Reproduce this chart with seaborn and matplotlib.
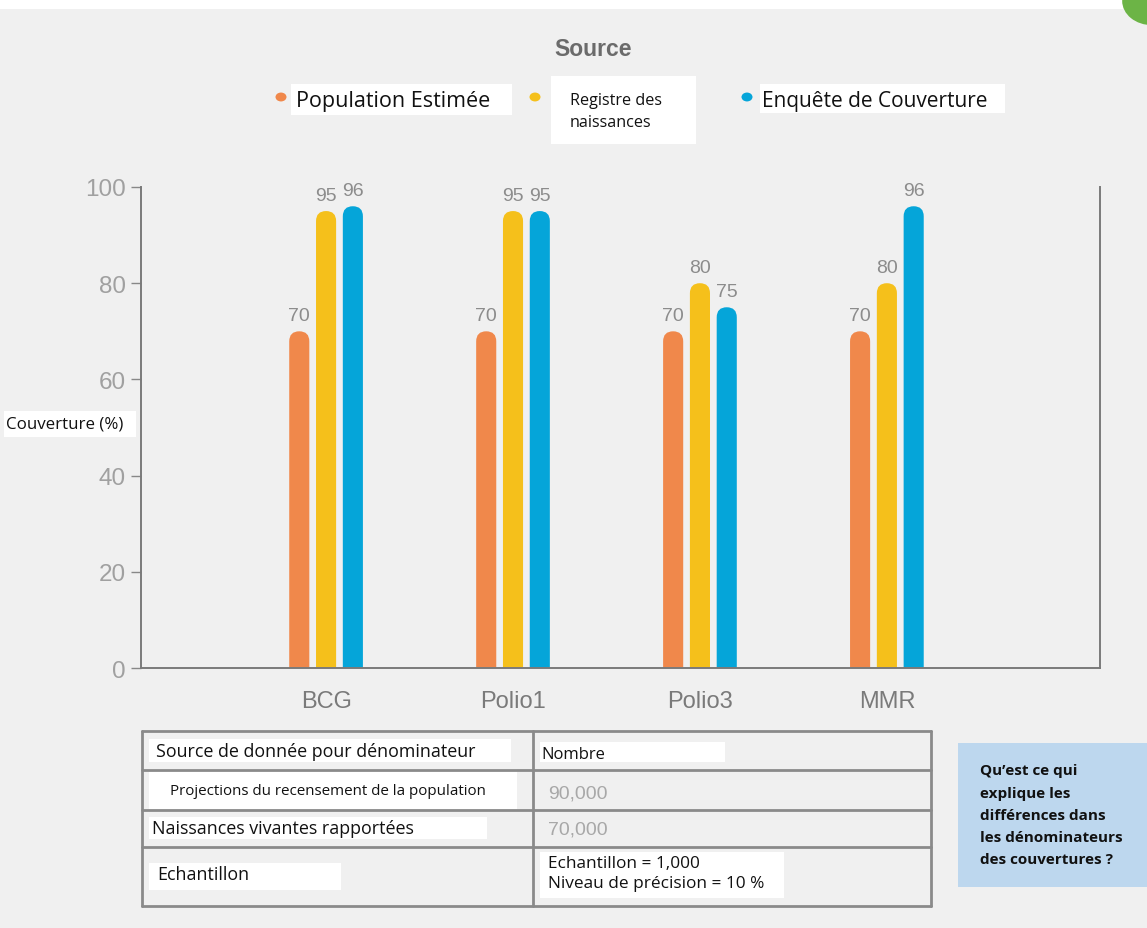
import matplotlib
matplotlib.use("Agg")
import matplotlib.pyplot as plt
import seaborn as sns
import pandas as pd
from matplotlib.patches import FancyBboxPatch, Rectangle, Circle

# ---------------- data ----------------
categories = ["BCG", "Polio1", "Polio3", "MMR"]
sources = ["Population Estimée", "Registre des naissances", "Enquête de Couverture"]
pop_estimee = [70, 70, 70, 70]
registre = [95, 95, 80, 80]
enquete = [96, 95, 75, 96]
yticks = [0, 20, 40, 60, 80, 100]
table_col1 = ["Source de donnée pour dénominateur",
              "Projections du recensement de la population",
              "Naissances vivantes rapportées",
              "Echantillon"]
table_col2 = ["Nombre", "90,000", "70,000",
              "Echantillon = 1,000\nNiveau de précision = 10 %"]
question = "Qu\u2019est ce qui\nexplique les\ndifférences dans\nles dénominateurs\ndes couvertures ?"

colors = ["#f0884b", "#f5c01b", "#05a5d9"]
BG = "#f0f0f0"

rows = []
for s, vals in zip(sources, [pop_estimee, registre, enquete]):
    for c, v in zip(categories, vals):
        rows.append({"vaccin": c, "couverture": v, "source": s})
df = pd.DataFrame(rows)

sns.set_theme(style="white")
plt.rcParams["font.family"] = ["Liberation Sans", "DejaVu Sans"]

W, H = 1147, 929
fig = plt.figure(figsize=(W / 100, H / 100), dpi=100, facecolor=BG)

def fx(px):
    return px / W

def fy(py):
    return 1 - py / H

ax = fig.add_axes([fx(141), fy(669), fx(1100) - fx(141), fy(188) - fy(669)])
ax.set_facecolor(BG)

sns.barplot(data=df, x="vaccin", y="couverture", hue="source",
            order=categories, hue_order=sources, palette=colors,
            width=0.43, gap=0.25, saturation=1, legend=False, ax=ax)

ax.set_xlim(-0.99, 4.14)
ax.set_ylim(0, 100)

# rounded bar tops
fig.canvas.draw()
p0 = ax.transData.transform((0, 0))
p1 = ax.transData.transform((1, 1))
pxx = p1[0] - p0[0]
pxy = p1[1] - p0[1]
aspect = pxx / pxy
old = list(ax.patches)
for p in old:
    x, w, h = p.get_x(), p.get_width(), p.get_height()
    fc = p.get_facecolor()
    p.remove()
    ext = 5
    fb = FancyBboxPatch((x, -ext), w, h + ext,
                        boxstyle=f"round,pad=0,rounding_size={w/2}",
                        mutation_aspect=aspect, facecolor=fc, edgecolor="none",
                        linewidth=0)
    ax.add_patch(fb)
    ax.text(x + w / 2, h + 1.5, f"{int(h)}", ha="center", va="bottom",
            fontsize=14, color="#8c8c8c")

ax.set_yticks(yticks)
ax.set_yticklabels([str(t) for t in yticks], fontsize=17.5, color="#a0a0a0")
ax.tick_params(axis="y", length=7, width=1, color="#888888", pad=4, left=True)
ax.tick_params(axis="x", length=0, pad=16, labelsize=17, labelcolor="#7a7a7a")
ax.set_xlabel("")
ax.set_ylabel("")
for side in ["left", "bottom", "right"]:
    ax.spines[side].set_visible(True)
    ax.spines[side].set_color("#7a7a7a")
    ax.spines[side].set_linewidth(1.4)
ax.spines["top"].set_visible(False)

# top white strip and green circle
fig.add_artist(Rectangle((0, fy(10)), 1, 1 - fy(10), transform=fig.transFigure,
                         facecolor="white", edgecolor="none", zorder=0))
fig.add_artist(Circle((fx(1152), fy(2)), 0.026, transform=fig.transFigure,
                      facecolor="#6cb446", edgecolor="none", clip_on=True))

# title
fig.text(fx(593), fy(50), "Source", ha="center", va="center",
         fontsize=16.5, fontweight="bold", color="#6b6b6b")

# legend
leg_dots = [281, 535, 747]
for xd, c in zip(leg_dots, colors):
    fig.add_artist(Circle((fx(xd), fy(98)), 5.5 / W, transform=fig.transFigure,
                          facecolor=c, edgecolor="none"))
fig.add_artist(Rectangle((fx(291), fy(116)), fx(512) - fx(291), fy(85) - fy(116),
                         transform=fig.transFigure, facecolor="white", edgecolor="none"))
fig.text(fx(296), fy(101), sources[0], ha="left", va="center", fontsize=15.5,
         color="#111111", family=["Open Sans", "DejaVu Sans"])
fig.add_artist(Rectangle((fx(551), fy(145)), fx(696) - fx(551), fy(77) - fy(145),
                         transform=fig.transFigure, facecolor="white", edgecolor="none"))
fig.text(fx(570), fy(112), "Registre des\nnaissances", ha="left", va="center",
         fontsize=11.6, color="#111111", linespacing=1.5,
         family=["Open Sans", "DejaVu Sans"])
fig.add_artist(Rectangle((fx(760), fy(114)), fx(1005) - fx(760), fy(85) - fy(114),
                         transform=fig.transFigure, facecolor="white", edgecolor="none"))
fig.text(fx(762), fy(101), sources[2], ha="left", va="center", fontsize=15,
         color="#111111", family=["Open Sans", "DejaVu Sans"])

# y label
fig.add_artist(Rectangle((fx(4), fy(438)), fx(136) - fx(4), fy(412) - fy(438),
                         transform=fig.transFigure, facecolor="white", edgecolor="none"))
fig.text(fx(6), fy(425), "Couverture (%)", ha="left", va="center", fontsize=12.2,
         color="#111111", family=["Open Sans", "DejaVu Sans"])

# table
tx0, tx1, txm = 142, 931, 533
row_y = [732, 771, 811, 848, 907]
lc = "#8a8a8a"
for yy in row_y:
    fig.add_artist(plt.Line2D([fx(tx0), fx(tx1)], [fy(yy), fy(yy)],
                              transform=fig.transFigure, color=lc, lw=2))
for xx in [tx0, txm, tx1]:
    fig.add_artist(plt.Line2D([fx(xx), fx(xx)], [fy(row_y[0]), fy(row_y[-1])],
                              transform=fig.transFigure, color=lc, lw=2))

# white boxes in cells
boxes1 = [(149, 511, 740, 763), (149, 517, 770, 810), (149, 487, 818, 840), (149, 341, 864, 891)]
boxes2 = [(540, 725, 743, 763), None, None, (540, 784, 853, 899)]
for b in boxes1 + boxes2:
    if b is None:
        continue
    x0, x1, y0, y1 = b
    fig.add_artist(Rectangle((fx(x0), fy(y1)), fx(x1) - fx(x0), fy(y0) - fy(y1),
                             transform=fig.transFigure, facecolor="white", edgecolor="none"))

c1_pos = [(156, 752, 12.9), (170, 792, 10.9), (152, 829, 12.9), (157, 875, 12.9)]
for (xx, yy, fs), t in zip(c1_pos, table_col1):
    fig.text(fx(xx), fy(yy), t, ha="left", va="center", fontsize=fs,
             color="#111111", family=["Open Sans", "DejaVu Sans"])
c2_pos = [(541, 755, "#111111", 12.0), (548, 794, "#a8a8a8", 14),
          (548, 830, "#a8a8a8", 14), (548, 874, "#111111", 12.4)]
for (xx, yy, col, fs), t in zip(c2_pos, table_col2):
    fig.text(fx(xx), fy(yy), t, ha="left", va="center", fontsize=fs,
             color=col, linespacing=1.3,
             family=(["Open Sans", "DejaVu Sans"] if col == "#111111" else ["Liberation Sans"]))

# question box
fig.add_artist(Rectangle((fx(958), fy(888)), fx(1147) - fx(958), fy(744) - fy(888),
                         transform=fig.transFigure, facecolor="#bdd7ee", edgecolor="none"))
fig.text(fx(980), fy(816), question, ha="left", va="center", fontsize=11,
         fontweight="bold", color="#111111", linespacing=1.75,
         family=["Open Sans", "DejaVu Sans"])

fig.savefig("out.png", dpi=100, facecolor=BG)
